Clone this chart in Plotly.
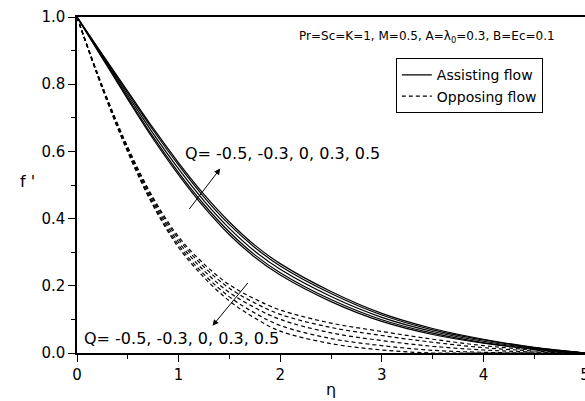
import plotly.graph_objects as go

# ---- data ----
eta = [0, 0.25, 0.5, 0.75, 1.0, 1.25, 1.5, 1.75, 2.0, 2.5, 3.0, 3.5, 4.0, 4.5, 5.0]
Q_values = ["-0.5", "-0.3", "0", "0.3", "0.5"]

# Assisting flow (solid)
assist_Qm05 = [1.0, 0.877, 0.755, 0.637, 0.530, 0.434, 0.352, 0.285, 0.232, 0.153, 0.094, 0.055, 0.029, 0.011, 0.0]
assist_Qm03 = [1.0, 0.880, 0.760, 0.643, 0.537, 0.442, 0.360, 0.292, 0.239, 0.159, 0.099, 0.059, 0.031, 0.012, 0.0]
assist_Q0 = [1.0, 0.883, 0.767, 0.653, 0.548, 0.453, 0.371, 0.303, 0.249, 0.168, 0.106, 0.064, 0.035, 0.014, 0.0]
assist_Q03 = [1.0, 0.886, 0.774, 0.663, 0.559, 0.464, 0.382, 0.314, 0.259, 0.177, 0.113, 0.069, 0.039, 0.016, 0.0]
assist_Q05 = [1.0, 0.889, 0.779, 0.669, 0.566, 0.472, 0.390, 0.321, 0.266, 0.183, 0.118, 0.073, 0.041, 0.017, 0.0]

# Opposing flow (dashed)
oppose_Qm05 = [1.0, 0.794, 0.613, 0.462, 0.346, 0.265, 0.203, 0.161, 0.128, 0.089, 0.064, 0.041, 0.022, 0.009, 0.0]
oppose_Qm03 = [1.0, 0.792, 0.609, 0.457, 0.339, 0.256, 0.193, 0.149, 0.115, 0.076, 0.052, 0.032, 0.016, 0.006, 0.0]
oppose_Q0 = [1.0, 0.790, 0.605, 0.450, 0.330, 0.245, 0.180, 0.135, 0.100, 0.060, 0.037, 0.020, 0.009, 0.003, 0.0]
oppose_Q03 = [1.0, 0.788, 0.601, 0.443, 0.321, 0.234, 0.167, 0.119, 0.082, 0.043, 0.022, 0.008, 0.002, 0.0, 0.0]
oppose_Q05 = [1.0, 0.786, 0.597, 0.438, 0.314, 0.225, 0.155, 0.104, 0.065, 0.028, 0.009, 0.0, 0.0, 0.0, 0.0]

assisting = [assist_Qm05, assist_Qm03, assist_Q0, assist_Q03, assist_Q05]
opposing = [oppose_Qm05, oppose_Qm03, oppose_Q0, oppose_Q03, oppose_Q05]

x_ticks = [0, 1, 2, 3, 4, 5]
y_ticks = [0.0, 0.2, 0.4, 0.6, 0.8, 1.0]
y_tick_labels = ["0.0", "0.2", "0.4", "0.6", "0.8", "1.0"]

FONT = "DejaVu Sans"

fig = go.Figure()
for i, (q, ys) in enumerate(zip(Q_values, assisting)):
    fig.add_trace(go.Scatter(
        x=eta, y=ys, mode="lines", line=dict(color="black", width=1.2, shape="spline"),
        name="Assisting flow", legendgroup="assist", showlegend=(i == 0)))
for i, (q, ys) in enumerate(zip(Q_values, opposing)):
    fig.add_trace(go.Scatter(
        x=eta, y=ys, mode="lines",
        line=dict(color="black", width=1.2, shape="spline", dash="4px,3px"),
        name="Opposing flow", legendgroup="oppose", showlegend=(i == 0)))

q_label = "Q= " + ", ".join(Q_values)
annotations = [
    dict(x=2.163, y=0.941, xref="x", yref="y", xanchor="left", yanchor="middle", showarrow=False,
         text="Pr=Sc=K=1, M=0.5, A=λ<sub>0</sub>=0.3, B=Ec=0.1", font=dict(size=12, family=FONT, color="black")),
    dict(x=1.04, y=0.595, xref="x", yref="y", xanchor="left", yanchor="middle", showarrow=False,
         text=q_label, font=dict(size=16, family=FONT, color="black")),
    dict(x=0.05, y=0.042, xref="x", yref="y", xanchor="left", yanchor="middle", showarrow=False,
         text=q_label, font=dict(size=16, family=FONT, color="black")),
    # arrows
    dict(x=1.41, y=0.549, ax=1.094, ay=0.424, xref="x", yref="y", axref="x", ayref="y",
         showarrow=True, arrowhead=2, arrowsize=1.2, arrowwidth=1, arrowcolor="black", text=""),
    dict(x=1.334, y=0.081, ax=1.694, ay=0.213, xref="x", yref="y", axref="x", ayref="y",
         showarrow=True, arrowhead=2, arrowsize=1.2, arrowwidth=1, arrowcolor="black", text=""),
    # axis titles
    dict(x=-0.098, y=0.51, xref="paper", yref="paper", xanchor="center", yanchor="middle", showarrow=False,
         text="f '", font=dict(size=16, family=FONT, color="black")),
    dict(x=0.5, y=-0.11, xref="paper", yref="paper", xanchor="center", yanchor="middle", showarrow=False,
         text="η", font=dict(size=16, family=FONT, color="black")),
]

fig.update_layout(
    width=585, height=401,
    margin=dict(l=77, r=0, t=17, b=48),
    paper_bgcolor="white", plot_bgcolor="white",
    font=dict(family=FONT, size=15, color="black"),
    showlegend=True,
    legend=dict(x=0.917, y=0.877, xanchor="right", yanchor="top", bgcolor="white",
                bordercolor="black", borderwidth=1, font=dict(size=14, family=FONT),
                tracegroupgap=0),
    annotations=annotations,
)
fig.update_xaxes(
    range=[0, 5], tickvals=x_ticks, ticktext=[str(v) for v in x_ticks],
    showline=True, linecolor="black", linewidth=1.5, mirror=True,
    ticks="outside", ticklen=7, tickwidth=1.3, tickcolor="black",
    minor=dict(dtick=0.5, ticks="outside", ticklen=4, tickwidth=1.3, tickcolor="black"),
    showgrid=False, zeroline=False, automargin=False, ticklabeloverflow="allow",
    tickfont=dict(size=15, family=FONT, color="black"),
)
fig.update_yaxes(
    range=[0, 1], tickvals=y_ticks, ticktext=y_tick_labels,
    showline=True, linecolor="black", linewidth=1.5, mirror=True,
    ticks="outside", ticklen=7, tickwidth=1.3, tickcolor="black",
    minor=dict(dtick=0.1, ticks="outside", ticklen=4, tickwidth=1.3, tickcolor="black"),
    showgrid=False, zeroline=False, automargin=False,
    tickfont=dict(size=15, family=FONT, color="black"),
)

fig.write_html("out.html")
